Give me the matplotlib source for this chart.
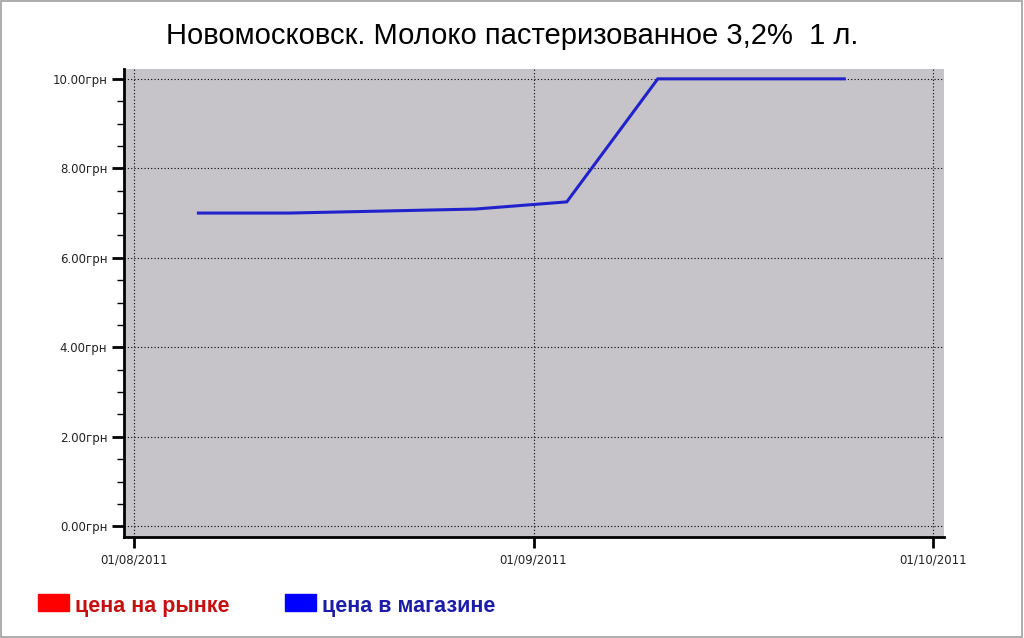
import calendar
import datetime as dt
import matplotlib.pyplot as plt
from matplotlib.patches import Rectangle
from matplotlib.ticker import MultipleLocator, FuncFormatter

# --- Data ---
dates = [dt.datetime(2011, 8, 6), dt.datetime(2011, 8, 13), dt.datetime(2011, 8, 27, 12),
         dt.datetime(2011, 9, 3, 12), dt.datetime(2011, 9, 10, 8), dt.datetime(2011, 9, 24, 8)]
store_price = [7.00, 7.00, 7.09, 7.25, 10.00, 10.00]
market_dates = []
market_price = []
xticks = [dt.datetime(2011, 8, 1), dt.datetime(2011, 9, 1), dt.datetime(2011, 10, 1)]

title = "Новомосковск. Молоко пастеризованное 3,2%  1 л."


# the x axis gives every month the same width
def month_pos(d):
    ndays = calendar.monthrange(d.year, d.month)[1]
    return (d.year * 12 + d.month - (2011 * 12 + 8)
            + (d.day - 1 + d.hour / 24) / ndays)


fig = plt.figure(figsize=(10.24, 6.38), dpi=100)
fig.patch.set_facecolor('white')
# thin gray frame round the whole image
fig.add_artist(Rectangle((0.0005, 0.001), 0.998, 0.997, transform=fig.transFigure,
                         fill=False, edgecolor='#a0a0a0', linewidth=1.2))

ax = fig.add_axes([124/1024, 1 - 537/638, (944-124)/1024, (537-69)/638])
ax.set_facecolor('#c6c4c8')

ax.plot([month_pos(d) for d in market_dates], market_price, color='red', lw=2)
ax.plot([month_pos(d) for d in dates], store_price, color='#2222cc', lw=2.2,
        solid_joinstyle='miter')

ax.set_ylim(-0.24, 10.22)
ax.set_xlim(-0.025, 2.0275)

ax.yaxis.set_major_locator(MultipleLocator(2))
ax.yaxis.set_minor_locator(MultipleLocator(0.5))
ax.yaxis.set_major_formatter(FuncFormatter(lambda v, p: f"{v:.2f}грн"))
ax.set_xticks([month_pos(d) for d in xticks])
ax.set_xticklabels([d.strftime('%d/%m/%Y') for d in xticks])

ax.tick_params(axis='y', which='major', length=9, width=2, labelsize=8.5,
               direction='out', pad=3)
ax.tick_params(axis='y', which='minor', length=5, width=1, direction='out')
ax.tick_params(axis='x', which='major', length=8, width=2, labelsize=8.5,
               direction='out', pad=4)
for lab in ax.get_xticklabels() + ax.get_yticklabels():
    lab.set_color('#222222')

for s in ['top', 'right']:
    ax.spines[s].set_visible(False)
for s in ['left', 'bottom']:
    ax.spines[s].set_linewidth(2)

ax.grid(True, which='major', color='black', linestyle=(0, (1, 2)), linewidth=0.8)

fig.text(0.5, 1 - 44/638, title, ha='center', va='baseline',
         fontsize=21, family='Liberation Sans')

# --- Legend drawn as colour squares with text ---
fig.add_artist(Rectangle((38/1024, 1 - 611/638), 31/1024, 17/638,
                         transform=fig.transFigure, color='red'))
fig.text(75/1024, 1 - 612/638, "цена на рынке", color='#c41010',
         fontsize=15.5, fontweight='bold', family='Liberation Sans', va='baseline')
fig.add_artist(Rectangle((285/1024, 1 - 611/638), 31/1024, 17/638,
                         transform=fig.transFigure, color='blue'))
fig.text(322/1024, 1 - 612/638, "цена в магазине", color='#1c1ca8',
         fontsize=15.5, fontweight='bold', family='Liberation Sans', va='baseline')

plt.savefig('out.png', dpi=100)
